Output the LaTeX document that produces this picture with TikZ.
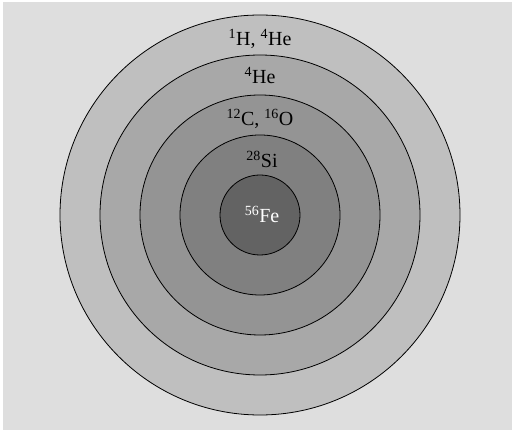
\documentclass[tikz,border=0pt]{standalone}
\usepackage{fontspec}
\setmainfont{Liberation Serif}
\begin{document}
\begin{tikzpicture}[
 x=1pt,y=-1pt,
 shell/.style={draw=black,line width=.8pt},
 tag/.style={font=\fontsize{20}{24}\selectfont,anchor=base,inner sep=0pt},
 every node/.style={text=black}]
 % Page and grey backdrop.
 \useasboundingbox (0,0) rectangle (512,430);
 \fill[white] (0,0) rectangle (512,430);
 \fill[black!13] (3,2) rectangle (512,430);
 % Nested shells, outermost first.
 \coordinate (core) at (260,215);
 \foreach \r/\k in {200/25,160/34,120/42,80/50,40/61}{
  \filldraw[shell,fill=black!\k] (core) circle[radius=\r];
 }
 % Shell contents.
 \node[tag] (hhe) at (260,46) {\textsuperscript{1}H, \textsuperscript{4}He};
 \node[tag] (he) at (260,84) {\textsuperscript{4}He};
 \node[tag] (co) at (260,126) {\textsuperscript{12}C, \textsuperscript{16}O};
 \node[tag] (si) at (262,168) {\textsuperscript{28}Si};
 \node[tag,text=white] (fe) at (262,223) {\textsuperscript{56}Fe};
\end{tikzpicture}
\end{document}
